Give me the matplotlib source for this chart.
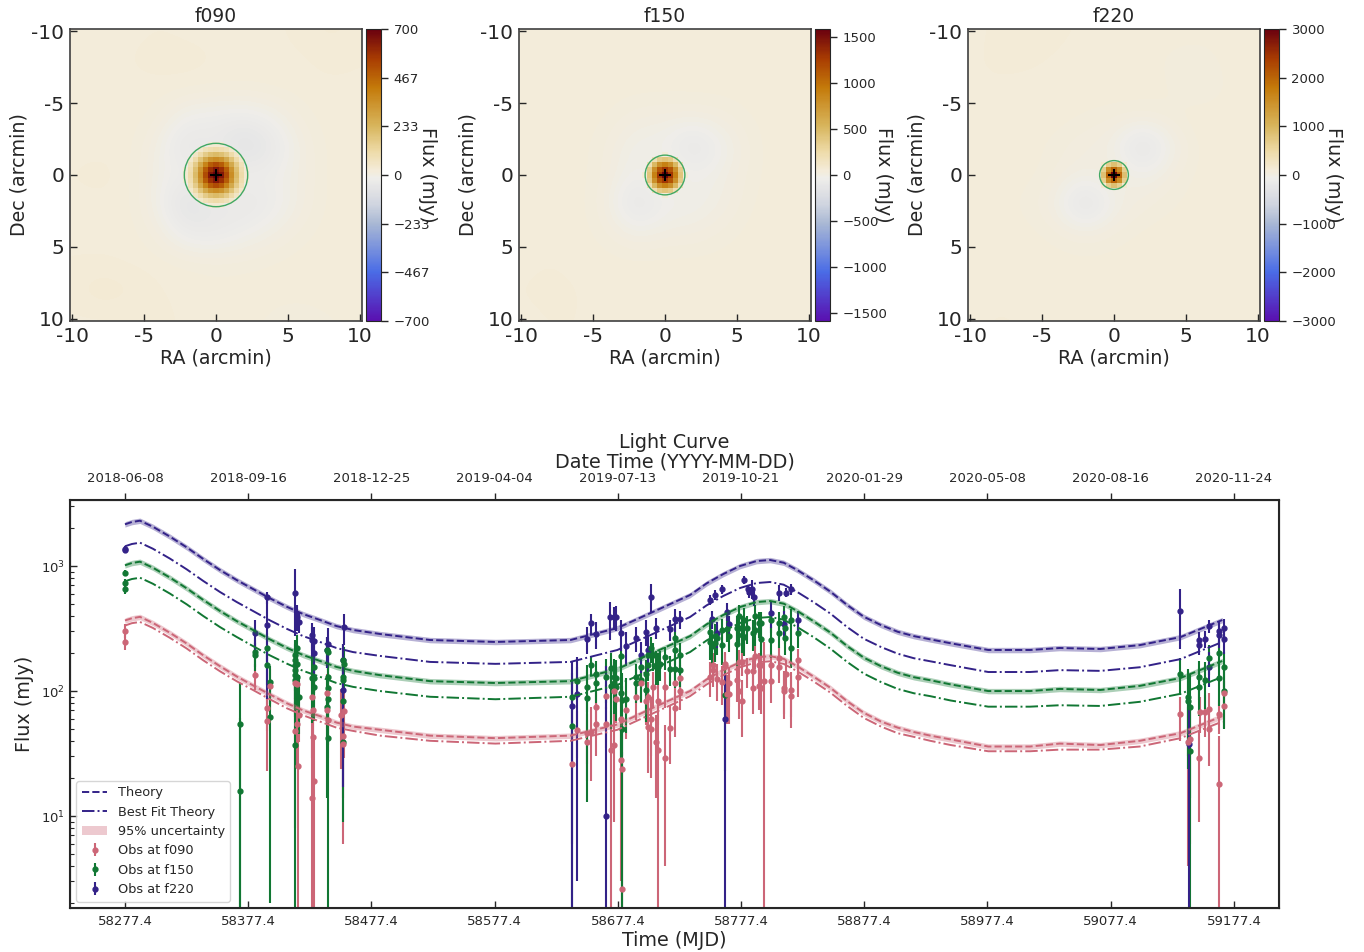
import numpy as np
import matplotlib
matplotlib.use('Agg')
import matplotlib.pyplot as plt
from matplotlib.colors import LinearSegmentedColormap
from matplotlib.patches import Circle
from matplotlib.ticker import NullFormatter

plt.rcParams['font.family'] = 'DejaVu Sans'
plt.rcParams['text.color'] = '0.15'
plt.rcParams['axes.labelcolor'] = '0.15'
plt.rcParams['xtick.color'] = '0.15'
plt.rcParams['ytick.color'] = '0.15'
plt.rcParams['axes.edgecolor'] = '0.15'

# map background, rows Dec -10..10, columns RA -10..10 (2 arcmin nodes), mJy
bg_f090 = [
    [20, 20, 20, 22, 20, 20, 20, 20, 25, 30, 25],
    [20, 20, 22, 25, 25, 22, 20, 20, 20, 25, 22],
    [20, 20, 20, 20, 20, 18, 18, 20, 20, 20, 20],
    [20, 20, 20, 15, -15, -20, -25, -10, 15, 20, 20],
    [20, 20, 20, 0, -55, -35, -85, -40, 5, 20, 20],
    [22, 25, 20, -5, -20, 15, -15, -15, 5, 20, 20],
    [20, 20, 20, -5, -75, -35, -45, -25, 5, 20, 20],
    [20, 20, 20, 10, -30, -35, -15, 0, 15, 20, 20],
    [22, 22, 20, 20, 18, 15, 15, 18, 20, 20, 20],
    [25, 35, 30, 22, 20, 18, 20, 20, 22, 25, 20],
    [20, 20, 20, 25, 20, 18, 18, 15, 8, 15, 20],
]
bg_f150 = [
    [45, 45, 50, 45, 45, 45, 50, 50, 45, 45, 45],
    [45, 50, 50, 45, 45, 45, 45, 45, 45, 50, 45],
    [45, 45, 45, 45, 45, 45, 45, 45, 45, 45, 45],
    [45, 45, 45, 40, 15, 10, 10, 20, 40, 45, 45],
    [45, 45, 45, 25, -30, -30, -130, -30, 30, 50, 45],
    [45, 45, 45, 25, -40, 30, -30, -5, 35, 45, 50],
    [45, 45, 45, 15, -130, -40, -30, 0, 40, 45, 45],
    [45, 45, 45, 30, -10, 10, 10, 30, 45, 45, 45],
    [45, 50, 45, 45, 45, 45, 45, 45, 45, 45, 50],
    [50, 55, 50, 45, 45, 45, 45, 45, 45, 50, 50],
    [45, 50, 50, 45, 45, 45, 45, 45, 45, 40, 45],
]
bg_f220 = [
    [85, 100, 110, 100, 90, 85, 85, 85, 85, 80, 80],
    [90, 100, 100, 90, 85, 85, 85, 60, 50, 85, 85],
    [90, 90, 85, 85, 85, 85, 80, 75, 30, 80, 85],
    [85, 85, 85, 85, 70, 60, 60, 70, 100, 85, 85],
    [85, 85, 85, 60, 20, -10, -300, -20, 80, 100, 85],
    [85, 85, 85, 50, 0, 50, -40, 40, 85, 85, 85],
    [85, 85, 60, 0, -300, -30, 40, 70, 85, 85, 85],
    [85, 85, 85, 60, 30, 60, 80, 85, 85, 85, 85],
    [85, 90, 85, 85, 80, 80, 85, 90, 85, 85, 85],
    [85, 85, 85, 85, 85, 85, 85, 100, 90, 85, 85],
    [85, 100, 90, 85, 85, 85, 85, 85, 85, 80, 85],
]

# central source, flux against radius in arcmin
core_r_f090 = [0, 0.35, 0.7, 1.05, 1.4, 1.75, 2.1, 2.2]
core_v_f090 = [690, 640, 520, 360, 215, 105, 35, 20]
core_r_f150 = [0, 0.35, 0.7, 1.05, 1.4]
core_v_f150 = [1560, 1300, 900, 420, 60]
core_r_f220 = [0, 0.35, 0.7, 1.0]
core_v_f220 = [2950, 2000, 850, 120]

bands = ['f090', 'f150', 'f220']
vmaxs = [700, 1590, 3000]
cbar_ticks = [
    [-700, -467, -233, 0, 233, 467, 700],
    [-1500, -1000, -500, 0, 500, 1000, 1500],
    [-3000, -2000, -1000, 0, 1000, 2000, 3000],
]
circle_r = [2.2, 1.38, 1.0]

# light curve
t_model = [58277.4, 58283, 58289.6, 58300, 58314, 58327.5, 58341, 58354.5, 58368, 58381.3, 58395, 58408.6,
           58422, 58435.7, 58449, 58462.5, 58484.4, 58525, 58578, 58639, 58677, 58704, 58736, 58749.5,
           58763, 58776.6, 58790, 58801, 58812, 58823, 58836, 58850, 58863.5, 58877, 58891, 58904.5,
           58917.7, 58931, 58947.6, 58978, 59012, 59036, 59069, 59101, 59134, 59168]
theory_f220 = [2156, 2249, 2304, 2063, 1716, 1411, 1138, 929, 773, 655, 552, 473, 413, 370, 331, 308, 286,
               256, 247, 256, 319, 421, 586, 727, 863, 1000, 1096, 1117, 1063, 929, 773, 623, 488, 393,
               337, 298, 275, 259, 241, 213, 213, 221, 217, 233, 270, 370]
theory_f150 = [1013, 1057, 1083, 970, 807, 663, 535, 437, 363, 308, 259, 222, 194, 174, 156, 145, 134,
               120, 116, 120, 150, 198, 275, 342, 406, 470, 515, 525, 500, 437, 363, 293, 229, 185,
               158, 140, 129, 122, 113, 100, 100, 104, 102, 110, 127, 174]
theory_f090 = [367, 382, 392, 351, 292, 240, 193, 158, 131, 111, 94, 80, 70, 63, 56, 52, 49,
               44, 42, 44, 54, 72, 100, 124, 147, 170, 186, 190, 181, 158, 131, 106, 83, 67,
               57, 51, 47, 44, 41, 36, 36, 38, 37, 40, 46, 63]
best_f220 = [1438, 1500, 1537, 1376, 1145, 941, 759, 620, 516, 437, 368, 315, 275, 247, 221, 205, 191,
             171, 165, 171, 213, 281, 391, 485, 576, 667, 731, 745, 709, 620, 516, 416, 325, 262,
             225, 199, 183, 173, 161, 142, 142, 147, 145, 155, 180, 247]
best_f150 = [755, 787, 806, 722, 601, 494, 398, 325, 271, 229, 193, 166, 145, 130, 116, 108, 100,
             90, 86, 90, 112, 147, 205, 254, 302, 350, 384, 391, 372, 325, 271, 218, 171, 138,
             118, 104, 96, 91, 84, 75, 75, 77, 76, 82, 95, 130]
best_f090 = [334, 349, 357, 320, 266, 219, 176, 144, 120, 102, 86, 73, 64, 57, 51, 48, 44,
             40, 38, 40, 49, 65, 91, 113, 134, 155, 170, 173, 165, 144, 120, 97, 76, 61,
             52, 46, 43, 40, 37, 33, 33, 34, 34, 36, 42, 57]

t_f220 = [58277.4, 58277.4, 58383, 58393, 58393, 58415, 58417, 58419, 58429, 58429, 58431, 58431,
          58442, 58441, 58455, 58454, 58454,
          58640, 58644, 58652, 58656, 58660, 58668, 58671, 58674, 58676, 58680, 58684, 58692, 58696,
          58700, 58702, 58704, 58708, 58720, 58724, 58728,
          58752, 58756, 58762, 58754, 58758, 58764, 58766, 58768, 58780, 58783, 58784, 58786, 58788,
          58802, 58808, 58812, 58814, 58818, 58824,
          59133.7, 59141, 59149, 59149, 59153.8, 59157, 59157.5, 59165.6, 59165.6, 59169.5, 59169.5]
y_f220 = [1340, 1380, 289, 561, 337, 612, 394, 359, 280, 256, 253, 200,
          238, 213, 323, 177, 102,
          76, 95, 261, 347, 286, 10, 388, 388, 393, 289, 229, 264, 194,
          298, 213, 569, 321, 311, 374, 374,
          535, 586, 651, 374, 289, 60, 432, 341, 773, 651, 620, 660, 569,
          418, 612, 344, 612, 654, 370,
          436, 38, 256, 233, 261, 333, 157, 304, 280, 259, 320]
e_f220 = [70, 70, 80, 60, 250, 334, 90, 70, 70, 70, 70, 70,
          80, 60, 90, 60, 85,
          96, 92, 62, 65, 70, 150, 130, 80, 90, 80, 70, 60, 55,
          70, 70, 150, 60, 60, 80, 60,
          50, 55, 50, 60, 70, 80, 70, 60, 60, 60, 60, 120, 90,
          100, 90, 90, 50, 70, 70,
          220, 40, 40, 40, 40, 40, 50, 60, 60, 60, 60]

t_f150 = [58277.4, 58277.4, 58277.4, 58371, 58371, 58383, 58383, 58393, 58393, 58395, 58395,
          58415, 58415, 58415, 58415, 58415, 58415, 58415, 58417, 58417, 58417, 58419,
          58429, 58431, 58431, 58431, 58441, 58441, 58442, 58442, 58442, 58442, 58442,
          58454, 58454, 58454, 58454, 58454, 58455,
          58640, 58640, 58644, 58652, 58652, 58656, 58660, 58660, 58668, 58672, 58672, 58674, 58674,
          58676, 58676, 58680, 58680, 58681, 58681, 58684,
          58692, 58692, 58696, 58696, 58700, 58700, 58702, 58702, 58704, 58706, 58708, 58710, 58712,
          58716, 58720, 58724, 58724, 58724, 58728, 58728,
          58752, 58752, 58754, 58756, 58756, 58758, 58762, 58762, 58764, 58766, 58768,
          58774, 58774, 58776, 58776, 58778, 58778, 58780, 58780, 58782, 58787, 58789, 58789,
          58792, 58794, 58794, 58802, 58802, 58808, 58808, 58812, 58813, 58813, 58818, 58818, 58824,
          59133.7, 59140.5, 59140.5, 59142, 59142, 59149, 59149, 59153.8, 59157, 59165.6, 59165.6,
          59169.5, 59169.5]
y_f150 = [885, 736, 651, 55, 16, 207, 194, 219, 161, 119, 62,
          194, 177, 161, 147, 134, 122, 37, 219, 166, 130, 90,
          126, 157, 126, 108, 213, 74, 207, 130, 105, 87, 42,
          177, 130, 122, 84, 39, 164,
          89, 53, 120, 108, 88, 161, 138, 115, 130, 152, 110, 130, 115,
          128, 108, 190, 97, 85, 50, 86,
          129, 115, 157, 122, 138, 102, 161, 194, 219, 194, 161, 157, 165,
          186, 149, 264, 213, 150, 194, 147,
          298, 248, 228, 276, 242, 265, 233, 308, 93, 316, 276,
          317, 240, 398, 320, 317, 280, 370, 270, 317, 290, 398, 310,
          347, 347, 259, 370, 255, 347, 289, 388, 317, 265, 370, 222, 293,
          138, 90, 84, 74, 33, 108, 130, 122, 185, 126, 203,
          155, 100]
e_f150 = [50, 50, 50, 60, 45, 50, 50, 70, 50, 40, 60,
          60, 60, 60, 60, 60, 60, 45, 60, 60, 60, 45,
          70, 60, 60, 50, 60, 60, 60, 60, 50, 50, 45,
          60, 50, 50, 50, 30, 60,
          50, 60, 35, 40, 75, 30, 35, 35, 50, 50, 60, 50, 50,
          50, 50, 40, 70, 55, 60, 40,
          35, 35, 40, 40, 40, 45, 40, 50, 50, 50, 50, 45, 45,
          40, 40, 60, 50, 45, 50, 40,
          70, 70, 70, 70, 70, 70, 70, 70, 70, 70, 70,
          80, 80, 90, 80, 80, 80, 90, 80, 80, 80, 90, 80,
          80, 80, 70, 80, 70, 80, 70, 90, 80, 70, 80, 70, 70,
          45, 60, 60, 60, 40, 45, 45, 50, 50, 50, 50,
          50, 50]

t_f090 = [58277.4, 58277.4, 58383, 58395, 58393, 58393,
          58415, 58415, 58417, 58417, 58418, 58419,
          58429, 58429, 58430, 58430, 58431, 58441, 58441, 58442,
          58453, 58455, 58454, 58454,
          58640, 58644, 58652, 58652, 58656, 58660, 58660, 58668, 58668, 58672, 58674, 58674, 58676,
          58680, 58680, 58681, 58681, 58684,
          58692, 58696, 58700, 58702, 58702, 58704, 58704, 58706, 58708, 58710, 58710, 58716, 58716,
          58720, 58724, 58724, 58728, 58728,
          58752, 58755, 58755, 58758, 58762, 58764, 58764, 58766, 58768, 58768,
          58774, 58776, 58776, 58778, 58778, 58782, 58787, 58787, 58789, 58792, 58792, 58794, 58794,
          58796, 58802, 58802, 58808, 58808, 58812, 58812, 58814, 58818, 58818, 58824, 58824,
          59133.7, 59140.5, 59142, 59149, 59149.5, 59153.8, 59157, 59157, 59165.6, 59165.6,
          59169.5, 59169.5]
y_f090 = [304, 248, 134, 110, 73, 58,
          115, 48, 114, 55, 25, 64,
          89, 14, 71, 43, 19, 97, 70, 59,
          64, 69, 44, 38,
          26, 49, 46, 39, 47, 74, 55, 92, 55, 34, 37, 101, 86,
          28, 60, 24, 2.6, 71,
          89, 115, 84, 89, 52, 50, 60, 108, 39, 34, 84, 108, 29,
          51, 117, 73, 126, 100,
          130, 162, 147, 124, 118, 160, 165, 95, 115, 95,
          122, 172, 100, 172, 83, 145, 145, 105, 190, 163, 110, 163, 105,
          120, 120, 163, 184, 157, 105, 100, 137, 102, 91, 178, 130,
          65, 39, 41, 29, 68, 68, 72, 50, 65, 18,
          96, 76]
e_f090 = [40, 35, 32, 40, 25, 35,
          50, 40, 50, 30, 25, 25,
          60, 30, 30, 45, 25, 40, 30, 30,
          40, 40, 30, 32,
          20, 20, 20, 20, 28, 25, 25, 20, 20, 35, 28, 30, 30,
          25, 30, 30, 30, 30,
          30, 35, 30, 30, 30, 30, 30, 35, 25, 35, 30, 35, 25,
          25, 35, 30, 35, 30,
          40, 40, 40, 40, 40, 40, 40, 40, 40, 40,
          40, 40, 40, 40, 40, 40, 40, 40, 40, 40, 40, 40, 40,
          125, 40, 40, 40, 40, 40, 40, 40, 40, 40, 40, 40,
          25, 35, 35, 20, 22, 25, 25, 25, 20, 26,
          25, 25]

date_labels = ['2018-06-08', '2018-09-16', '2018-12-25', '2019-04-04', '2019-07-13',
               '2019-10-21', '2020-01-29', '2020-05-08', '2020-08-16', '2020-11-24']
mjd_ticks = [58277.4, 58377.4, 58477.4, 58577.4, 58677.4, 58777.4, 58877.4, 58977.4, 59077.4, 59177.4]
band_frac = 0.05

c_f090 = '#CC6677'
c_f150 = '#117733'
c_f220 = '#332288'

flux_cmap = LinearSegmentedColormap.from_list('flux', [
    (0.0, '#5a10b0'), (0.167, '#4a6ce6'), (0.333, '#a9b8d4'), (0.40, '#d0d5e0'), (0.44, '#dfe0e4'),
    (0.49, '#efeeea'), (0.5, '#f1ede2'), (0.515, '#f4ecda'), (0.58, '#eedba8'), (0.667, '#d8b65e'),
    (0.8, '#c47a0a'), (0.9, '#a83c02'), (1.0, '#6a000f')])

W, H = 1364, 952
fig = plt.figure(figsize=(W / 100, H / 100), dpi=100)


def px_axes(x0, y0, x1, y1):
    return fig.add_axes([x0 / W, 1 - y1 / H, (x1 - x0) / W, (y1 - y0) / H])


def draw_map(ax, bg, core_r, core_v, vmax):
    im = ax.imshow(bg, extent=(-11, 11, 11, -11), cmap=flux_cmap, vmin=-vmax, vmax=vmax,
                   interpolation='bicubic', aspect='auto')
    # pixelated source on top of the smooth background
    cell = 0.35
    n = int(core_r[-1] / cell) + 1
    xc = np.arange(-n, n + 1) * cell
    r = np.hypot(*np.meshgrid(xc, xc))
    core = np.ma.masked_where(r > core_r[-1], np.interp(r, core_r, core_v))
    half = (n + 0.5) * cell
    ax.imshow(core, extent=(-half, half, half, -half), cmap=flux_cmap, vmin=-vmax, vmax=vmax,
              interpolation='nearest', aspect='auto')
    ax.set_xlim(-10.14, 10.14)
    ax.set_ylim(10.14, -10.14)
    return im


map_lefts = [70, 519, 968]
label_offs = [62, 69, 69]
cores = [(bg_f090, core_r_f090, core_v_f090), (bg_f150, core_r_f150, core_v_f150), (bg_f220, core_r_f220, core_v_f220)]
for i, band in enumerate(bands):
    x0 = map_lefts[i]
    ax = px_axes(x0, 29, x0 + 292, 321)
    im = draw_map(ax, cores[i][0], cores[i][1], cores[i][2], vmaxs[i])
    ax.add_patch(Circle((0, 0), circle_r[i], fill=False, ec='#41a863', lw=1))
    ax.plot(0, 0, '+', color='k', ms=9, mew=1.5)
    ax.set_xticks([-10, -5, 0, 5, 10])
    ax.set_xticklabels(['-10', '-5', '0', '5', '10'])
    ax.set_yticks([-10, -5, 0, 5, 10])
    ax.set_yticklabels(['-10', '-5', '0', '5', '10'])
    ax.tick_params(direction='in', length=5, width=1, labelsize=14.5, pad=4)
    ax.set_xlabel('RA (arcmin)', fontsize=13.7, labelpad=2)
    ax.set_ylabel('Dec (arcmin)', fontsize=13.7, labelpad=2)
    ax.set_title(band, fontsize=13.5, pad=5)
    for s in ax.spines.values():
        s.set_linewidth(1.2)
        s.set_color('0.25')
    cax = px_axes(x0 + 296, 29, x0 + 311, 321)
    cb = fig.colorbar(im, cax=cax)
    cb.set_ticks(cbar_ticks[i])
    cb.ax.tick_params(direction='out', length=5, width=1, labelsize=9.5, pad=4)
    cb.outline.set_linewidth(0.8)
    cax.text(label_offs[i] / 15, 0.5, 'Flux (mJy)', rotation=270, ha='center', va='center',
             fontsize=13.7, transform=cax.transAxes)

ax = px_axes(70, 500, 1279, 908)
ax.set_yscale('log')
series = [(theory_f220, best_f220, c_f220), (theory_f150, best_f150, c_f150), (theory_f090, best_f090, c_f090)]
h_model = {}
for th, bf, c in series:
    th = np.array(th)
    band_h = ax.fill_between(t_model, th * (1 - band_frac), th * (1 + band_frac), color=c, alpha=0.35, lw=0, zorder=3)
    line_h, = ax.plot(t_model, th, '--', color=c, lw=1.4, zorder=4)
    best_h, = ax.plot(t_model, bf, '-.', color=c, lw=1.4, zorder=4)
    h_model[c] = (line_h, best_h, band_h)

obs_style = dict(fmt='o', ms=3.5, elinewidth=1.5, capsize=0)
h_090 = ax.errorbar(t_f090, y_f090, yerr=e_f090, color=c_f090, zorder=2.1, **obs_style)
h_150 = ax.errorbar(t_f150, y_f150, yerr=e_f150, color=c_f150, zorder=2.2, **obs_style)
h_220 = ax.errorbar(t_f220, y_f220, yerr=e_f220, color=c_f220, zorder=2.3, **obs_style)
# markers sit above all the bars
h_220[0].set_zorder(2.4)
h_150[0].set_zorder(2.5)
h_090[0].set_zorder(2.6)

ax.set_xlim(58232.8, 59214)
ax.set_ylim(1.84, 3373)
ax.set_xticks(mjd_ticks)
ax.set_xticklabels([f'{m:.1f}' for m in mjd_ticks])
ax.yaxis.set_minor_formatter(NullFormatter())
ax.tick_params(axis='both', which='major', direction='in', length=5, width=1, labelsize=9.5)
ax.tick_params(axis='y', which='minor', direction='in', length=3, width=0.8)
ax.tick_params(axis='x', pad=5)
ax.set_xlabel('Time (MJD)', fontsize=13.8, labelpad=2)
ax.set_ylabel('Flux (mJy)', fontsize=13.8, labelpad=5)
for s in ax.spines.values():
    s.set_linewidth(1.5)

top = ax.twiny()
top.set_xlim(ax.get_xlim())
top.set_xticks(mjd_ticks)
top.set_xticklabels(date_labels)
top.tick_params(axis='x', direction='out', length=5, width=1, labelsize=9.5, pad=6)
top.set_xlabel('Date Time (YYYY-MM-DD)', fontsize=13.8, labelpad=3)
top.set_title('Light Curve', fontsize=13.8, pad=3)

handles = [h_model[c_f220][0], h_model[c_f220][1], h_model[c_f090][2], h_090, h_150, h_220]
labels = ['Theory', 'Best Fit Theory', '95% uncertainty', 'Obs at f090', 'Obs at f150', 'Obs at f220']
ax.legend(handles, labels, loc='lower left', fontsize=9.3)

fig.savefig('out.png', dpi=100)
